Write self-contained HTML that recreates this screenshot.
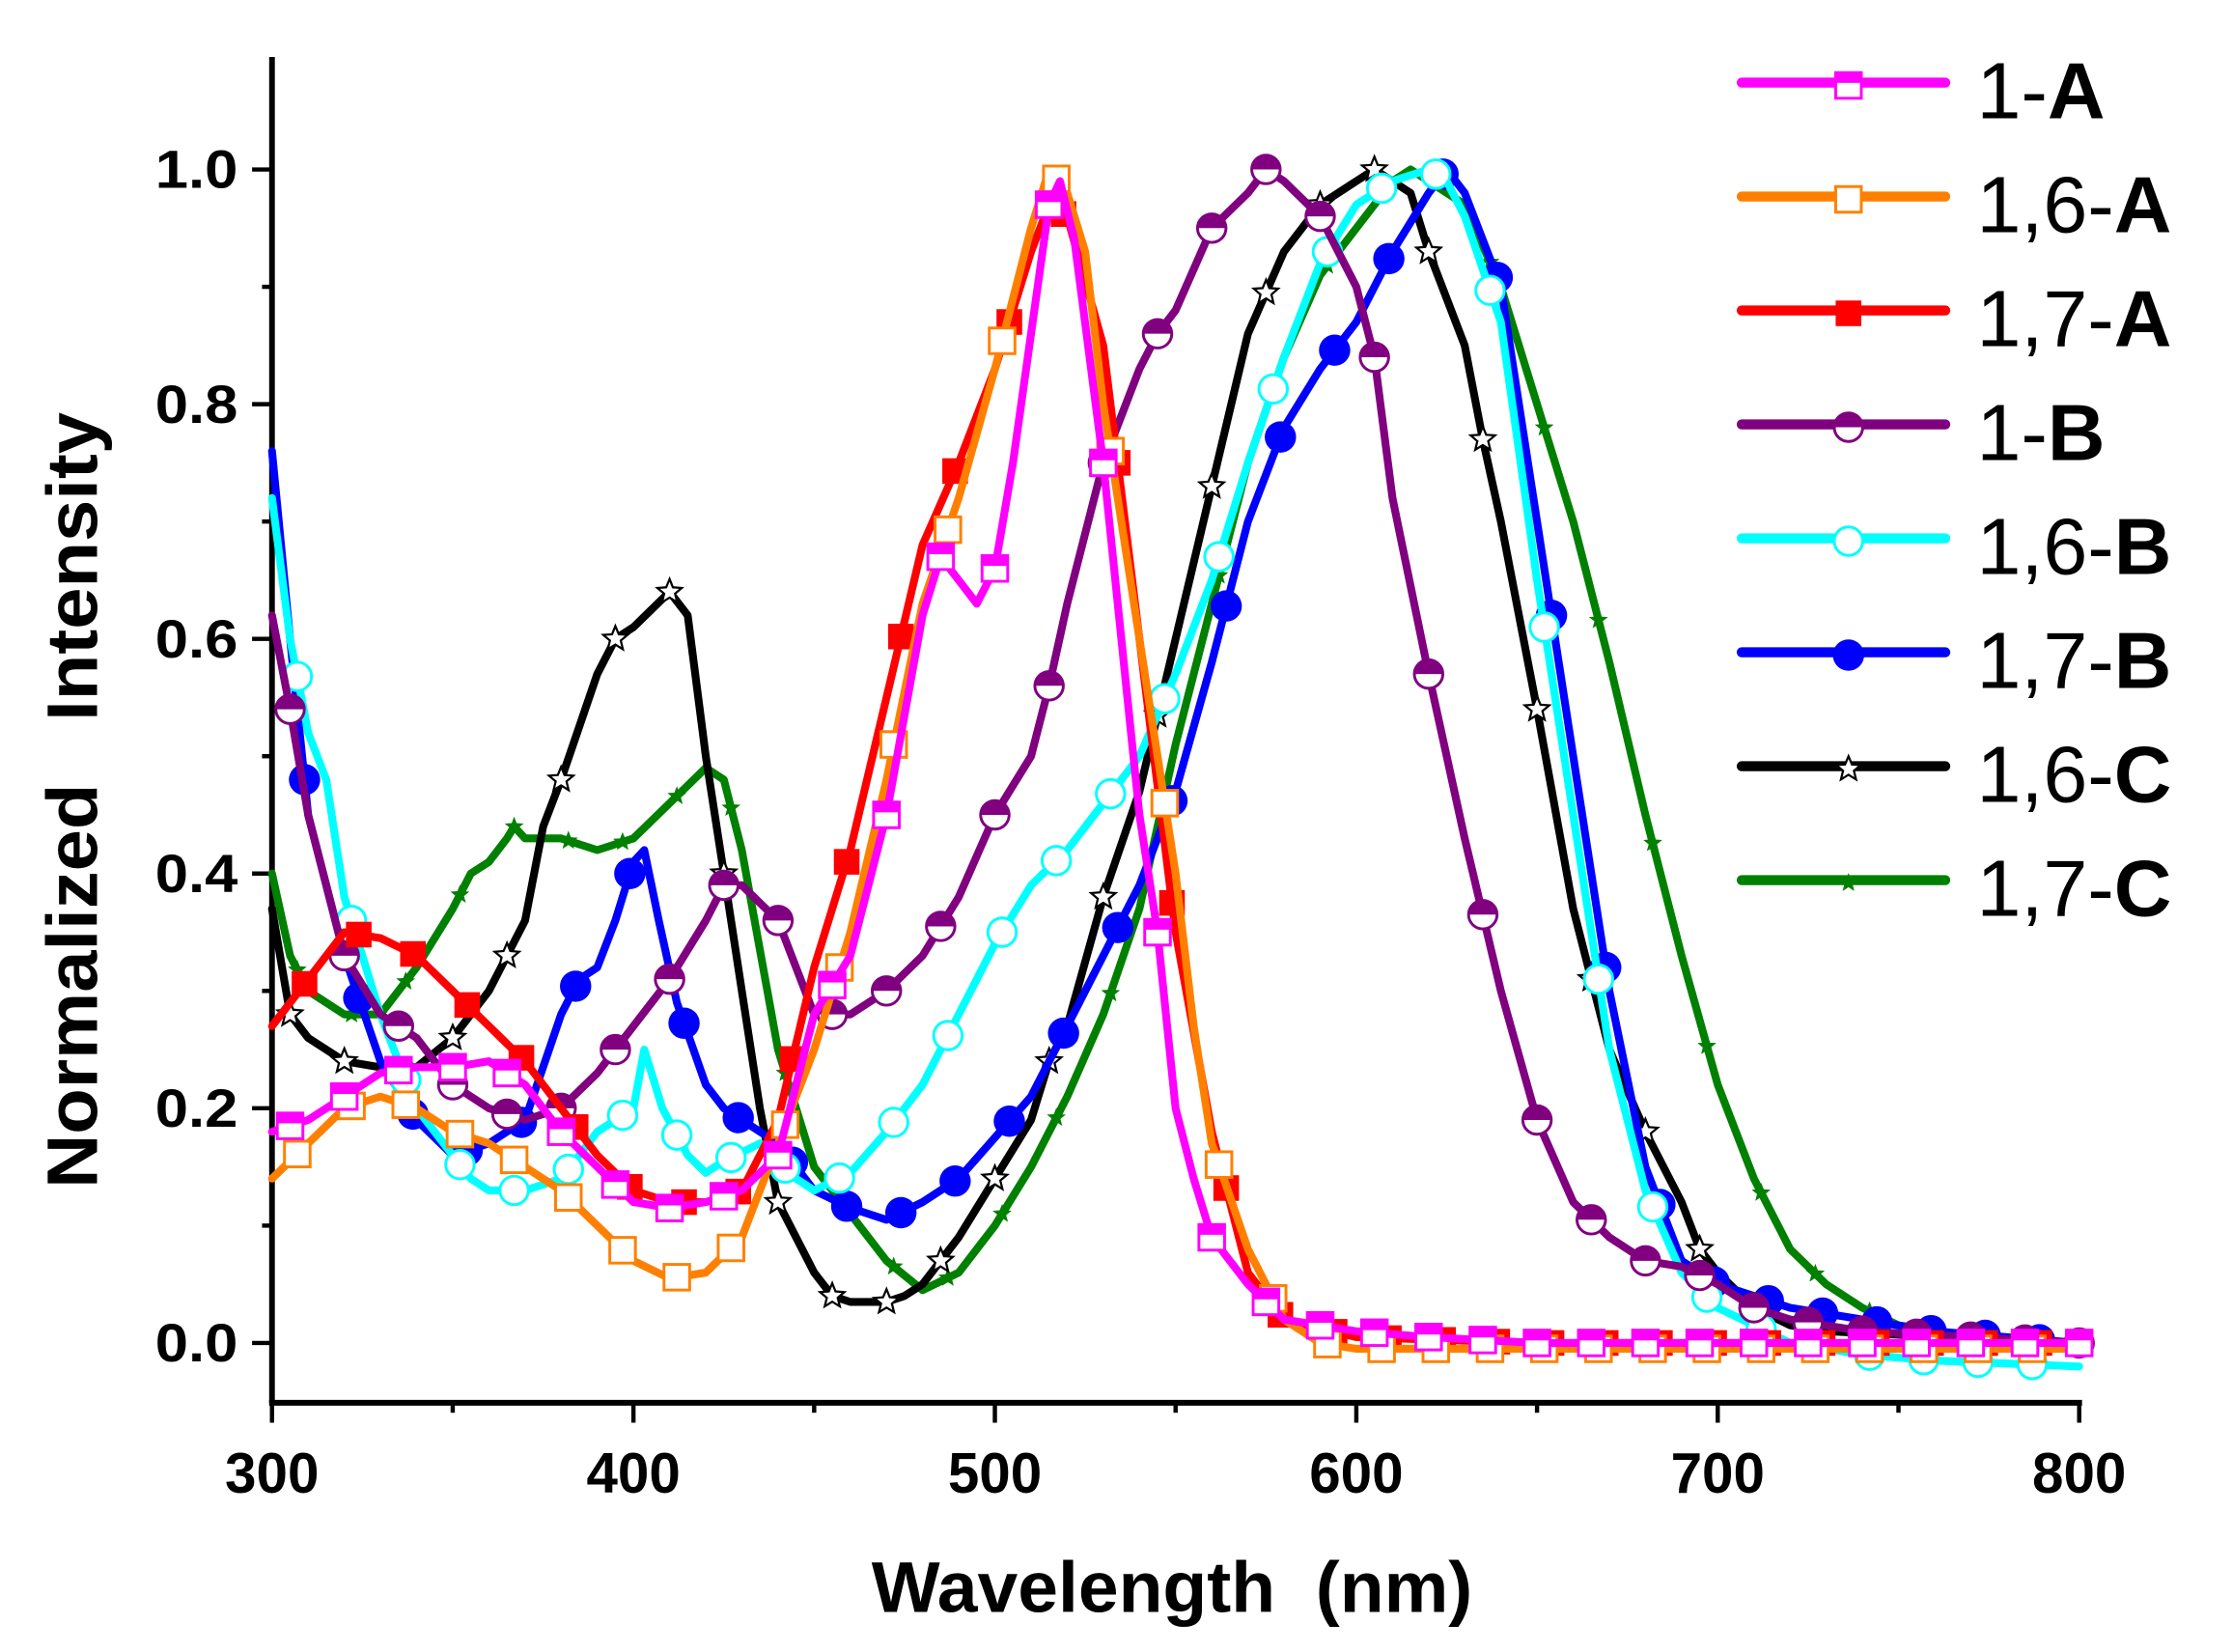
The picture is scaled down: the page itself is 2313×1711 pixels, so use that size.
<!DOCTYPE html>
<html><head><meta charset="utf-8"><style>
html,body{margin:0;padding:0;background:#fff;}
svg{display:block;}
text{font-family:"Liberation Sans",Arial,sans-serif;white-space:pre;}
</style></head><body>
<svg id="chart" width="2313" height="1711" viewBox="0 0 1568 1160" preserveAspectRatio="none" xmlns="http://www.w3.org/2000/svg">
<g id="axes"></g>
<g id="series"></g>
<g id="legend"></g>
</svg>
<script>
const NS="http://www.w3.org/2000/svg";
const xTicks=[300,400,500,600,700,800];
const yTicks=[0.0,0.2,0.4,0.6,0.8,1.0];
const yTickLabels=["0.0","0.2","0.4","0.6","0.8","1.0"];
const seriesNames=["1-A","1,6-A","1,7-A","1-B","1,6-B","1,7-B","1,6-C","1,7-C"];
const wl_1A=[300,310,320,330,340,350,360,370,380,390,400,410,420,430,440,450,460,470,480,485,490,495,500,505,510,515,518,522,530,535,540,545,550,555,560,570,580,600,620,650,800];
const v_1A=[0.18,0.19,0.21,0.23,0.235,0.235,0.24,0.22,0.18,0.15,0.12,0.115,0.12,0.13,0.16,0.28,0.33,0.45,0.62,0.67,0.65,0.63,0.66,0.75,0.86,0.97,0.99,0.94,0.75,0.6,0.45,0.35,0.2,0.14,0.09,0.05,0.02,0.01,0.005,0.0,0.0];
const wl_16A=[300,310,320,330,340,350,360,370,380,390,400,410,420,430,440,450,460,470,480,490,500,510,515,520,525,530,540,550,555,560,570,580,590,600,800];
const v_16A=[0.14,0.17,0.2,0.21,0.2,0.18,0.17,0.15,0.13,0.1,0.07,0.055,0.06,0.09,0.17,0.25,0.35,0.48,0.63,0.72,0.83,0.95,1.0,0.98,0.93,0.8,0.6,0.4,0.27,0.17,0.08,0.02,0.0,-0.005,-0.005];
const wl_17A=[300,310,320,330,340,350,360,370,380,390,400,410,420,430,440,450,460,470,480,490,500,510,515,520,530,540,550,560,570,580,600,650,800];
const v_17A=[0.27,0.31,0.35,0.345,0.33,0.3,0.27,0.24,0.2,0.16,0.13,0.12,0.12,0.13,0.19,0.32,0.42,0.55,0.68,0.75,0.83,0.93,0.97,0.96,0.85,0.6,0.35,0.18,0.06,0.02,0.005,0.0,0.0];
const wl_1B=[300,305,310,320,330,340,350,360,370,380,390,400,410,420,425,430,440,450,460,470,480,490,500,510,515,520,530,540,545,550,560,570,575,580,590,600,605,610,620,630,640,650,660,670,680,690,700,710,720,740,800];
const v_1B=[0.62,0.54,0.45,0.33,0.28,0.26,0.22,0.2,0.19,0.2,0.23,0.27,0.31,0.36,0.39,0.39,0.36,0.28,0.28,0.3,0.33,0.38,0.45,0.5,0.56,0.63,0.75,0.83,0.86,0.88,0.95,0.98,1.0,0.99,0.96,0.9,0.84,0.72,0.57,0.43,0.3,0.19,0.12,0.09,0.07,0.065,0.05,0.03,0.02,0.01,0.0];
const wl_16B=[300,305,310,315,320,330,340,350,355,360,370,380,390,400,403,408,415,420,425,435,445,450,460,470,480,490,500,510,520,530,540,550,560,570,580,590,600,610,620,625,630,640,650,660,670,680,690,700,710,720,740,760,800];
const v_16B=[0.72,0.6,0.52,0.48,0.38,0.28,0.2,0.16,0.14,0.13,0.13,0.14,0.18,0.2,0.25,0.2,0.16,0.145,0.155,0.17,0.14,0.13,0.145,0.18,0.22,0.28,0.34,0.39,0.42,0.46,0.5,0.57,0.65,0.75,0.84,0.92,0.97,0.99,1.0,0.99,0.96,0.87,0.65,0.45,0.25,0.13,0.06,0.03,0.015,0.0,-0.01,-0.015,-0.02];
const wl_17B=[300,305,310,320,330,340,350,360,370,380,385,390,395,400,403,407,412,420,425,430,440,450,460,470,480,490,500,510,520,530,540,550,560,570,580,590,600,610,620,625,630,640,650,660,670,680,690,700,710,720,740,760,780,800];
const v_17B=[0.76,0.6,0.45,0.33,0.24,0.19,0.16,0.17,0.19,0.28,0.31,0.32,0.36,0.41,0.42,0.36,0.29,0.22,0.2,0.19,0.17,0.13,0.115,0.105,0.12,0.14,0.175,0.21,0.27,0.33,0.39,0.47,0.58,0.7,0.78,0.83,0.87,0.93,0.98,1.0,0.98,0.9,0.7,0.5,0.3,0.15,0.07,0.05,0.04,0.03,0.02,0.01,0.005,0.0];
const wl_16C=[300,305,310,320,330,340,350,360,370,375,380,390,395,400,410,415,420,425,430,435,440,450,455,460,470,475,480,490,500,510,515,520,530,540,550,560,570,580,590,600,605,610,615,620,630,635,640,650,660,670,680,690,695,700,710,720,730,800];
const v_16C=[0.37,0.28,0.26,0.24,0.235,0.235,0.26,0.3,0.36,0.44,0.48,0.57,0.6,0.61,0.64,0.62,0.5,0.4,0.3,0.2,0.12,0.06,0.04,0.035,0.035,0.04,0.05,0.09,0.14,0.19,0.24,0.27,0.38,0.47,0.6,0.73,0.86,0.93,0.97,0.99,1.0,0.99,0.98,0.93,0.85,0.77,0.7,0.54,0.37,0.25,0.18,0.12,0.08,0.06,0.03,0.015,0.01,0.0];
const wl_17C=[300,305,310,320,330,340,350,355,360,365,367,370,380,390,400,410,420,425,430,440,450,460,470,480,490,500,510,520,530,540,550,560,570,580,590,600,610,615,620,630,640,650,660,670,680,690,700,710,720,730,740,750,760];
const v_17C=[0.4,0.33,0.3,0.28,0.28,0.32,0.37,0.4,0.41,0.43,0.44,0.43,0.43,0.42,0.43,0.46,0.49,0.48,0.42,0.25,0.15,0.11,0.07,0.045,0.06,0.1,0.15,0.21,0.28,0.37,0.51,0.63,0.75,0.84,0.91,0.95,0.99,1.0,0.99,0.97,0.9,0.8,0.7,0.58,0.45,0.33,0.22,0.14,0.08,0.05,0.03,0.015,0.01];
const wlArrays=[wl_1A,wl_16A,wl_17A,wl_1B,wl_16B,wl_17B,wl_16C,wl_17C];
const valArrays=[v_1A,v_16A,v_17A,v_1B,v_16B,v_17B,v_16C,v_17C];

const colors=["#ff00ff","#ff8000","#ff0000","#800080","#00ffff","#0000ff","#000000","#008000"];
const markers=["halfsq","opensq","fillsq","halfcirc","opencirc","fillcirc","star","smallstar"];
const xScale=v=>191+(v-300)*(1460-191)/500;
const yScale=v=>943-v*824;
function mk(tag,attrs,parent){const e=document.createElementNS(NS,tag);for(const k in attrs)e.setAttribute(k,attrs[k]);parent.appendChild(e);return e;}
const axes=document.getElementById('axes');
let e;
e=mk('line',{x1:191,y1:40,x2:191,y2:985,stroke:'#000','stroke-width':4},axes);


e=mk('line',{x1:189,y1:985,x2:1462,y2:985,stroke:'#000','stroke-width':4},axes);


for(let v=300;v<=800;v+=50){const major=v%100===0;const x=xScale(v);
 e=mk('line',{x1:x,y1:985,x2:x,y2:major?999:992,stroke:'#000','stroke-width':3},axes);
 
 }
xTicks.forEach(v=>{const t=mk('text',{x:xScale(v),y:1048,'text-anchor':'middle','font-size':40,'font-weight':'bold',textLength:66,lengthAdjust:'spacingAndGlyphs'},axes);t.textContent=v;
 
 });
for(let v=0;v<=1.0001;v+=0.1){const major=Math.round(v*10)%2===0;const y=yScale(v);
 e=mk('line',{x1:major?177:184,y1:y,x2:191,y2:y,stroke:'#000','stroke-width':3},axes);
 
 }
yTicks.forEach((v,i)=>{const t=mk('text',{x:167,y:yScale(v)+13,'text-anchor':'end','font-size':38,'font-weight':'bold',textLength:58,lengthAdjust:'spacingAndGlyphs'},axes);t.textContent=yTickLabels[i];
 
 });
let t=mk('text',{x:823,y:1132,'text-anchor':'middle','font-size':50,'font-weight':'bold',textLength:422,lengthAdjust:'spacingAndGlyphs'},axes);t.textContent='Wavelength\u00a0\u00a0(nm)';


t=mk('text',{x:0,y:0,'text-anchor':'middle','font-size':50,'font-weight':'bold',textLength:545,lengthAdjust:'spacingAndGlyphs',transform:'translate(68,562) rotate(-90)'},axes);t.textContent='Normalized\u00a0\u00a0\u00a0Intensity';



function starPts(cx,cy,R,r){let p=[];for(let i=0;i<10;i++){const a=-Math.PI/2+i*Math.PI/5;const rr=i%2?r:R;p.push((cx+rr*Math.cos(a)).toFixed(1)+','+(cy+rr*Math.sin(a)).toFixed(1));}return p.join(' ');}
function drawMarker(g,type,c,x,y){const s=9;let m;
 if(type==='halfsq'){m=mk('rect',{x:x-s,y:y-s,width:2*s,height:2*s,fill:'#fff',stroke:c,'stroke-width':2},g);mk('rect',{x:x-s,y:y-s,width:2*s,height:s*0.8,fill:c},g);}
 else if(type==='opensq'){m=mk('rect',{x:x-s,y:y-s,width:2*s,height:2*s,fill:'#fff',stroke:c,'stroke-width':2},g);}
 else if(type==='fillsq'){m=mk('rect',{x:x-s,y:y-s,width:2*s,height:2*s,fill:c},g);}
 else if(type==='halfcirc'){m=mk('circle',{cx:x,cy:y,r:s+1,fill:'#fff',stroke:c,'stroke-width':2},g);mk('path',{d:`M${x-s-1},${y} A${s+1},${s+1} 0 0 1 ${x+s+1},${y} Z`,fill:c},g);}
 else if(type==='opencirc'){m=mk('circle',{cx:x,cy:y,r:s+1,fill:'#fff',stroke:c,'stroke-width':2},g);}
 else if(type==='fillcirc'){m=mk('circle',{cx:x,cy:y,r:s+2,fill:c},g);}
 else if(type==='star'){m=mk('polygon',{points:starPts(x,y,9,4),fill:'#fff',stroke:c,'stroke-width':1.5},g);}
 else {m=mk('polygon',{points:starPts(x,y,7,3),fill:c},g);}
 return m;}
function interp(wl,v,x){for(let i=0;i<wl.length-1;i++){if(x>=wl[i]&&x<=wl[i+1]){return v[i]+(v[i+1]-v[i])*(x-wl[i])/(wl[i+1]-wl[i]);}}return null;}
const sg=document.getElementById('series');
for(let k=seriesNames.length-1;k>=0;k--){
 const wl=wlArrays[k],v=valArrays[k];
 const g=mk('g',{},sg);
 
 
 const pts=wl.map((w,i)=>xScale(w).toFixed(1)+','+yScale(v[i]).toFixed(1)).join(' ');
 const pl=mk('polyline',{points:pts,fill:'none',stroke:colors[k],'stroke-width':5.5,'stroke-linejoin':'round','stroke-linecap':'round'},g);
 
 
 for(let x=305+(k%3)*2;x<=wl[wl.length-1];x+=15){const y=interp(wl,v,x);if(y===null)continue;
  const m=drawMarker(g,markers[k],colors[k],xScale(x),yScale(y));
  
  }
}
const lg=document.getElementById('legend');
seriesNames.forEach((n,i)=>{const y=58+i*80;const g=mk('g',{},lg);
 
 
 mk('line',{x1:1223,y1:y,x2:1366,y2:y,stroke:colors[i],'stroke-width':7,'stroke-linecap':'round'},g);
 drawMarker(g,markers[i],colors[i],1298,y+2);
 const parts=n.split('-');
 const tx=mk('text',{x:1388,y:y+25,'font-size':56},g);
 const a=document.createElementNS(NS,'tspan');a.textContent=parts[0]+'-';tx.appendChild(a);
 const b=document.createElementNS(NS,'tspan');b.setAttribute('font-weight','bold');b.textContent=parts[1];tx.appendChild(b);
});
</script>
</body></html>
